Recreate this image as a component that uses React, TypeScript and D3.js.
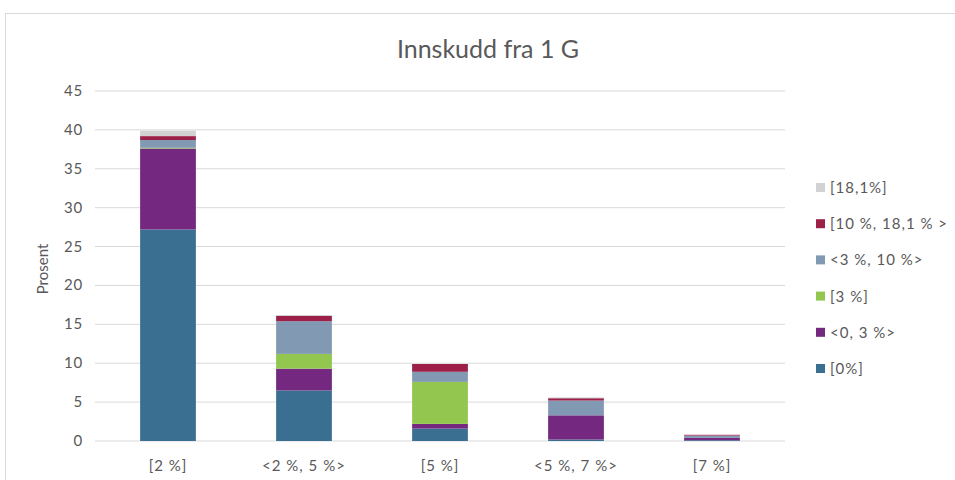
import React from "react";
import * as d3 from "d3";

const categories = ["[2 %]", "<2 %, 5 %>", "[5 %]", "<5 %, 7 %>", "[7 %]"];
const seriesNames = ["[0%]", "<0, 3 %>", "[3 %]", "<3 %, 10 %>", "[10 %, 18,1 % >", "[18,1%]"];
const seriesColors = ["#3a6f92", "#74287f", "#92c64e", "#8199b3", "#9c2048", "#d2d2d2"];

// values per series, in category order
const s0 = [27.2, 6.5, 1.6, 0.2, 0.1];
const s1 = [10.4, 2.8, 0.6, 3.1, 0.3];
const s2 = [0.1, 1.9, 5.4, 0.0, 0.0];
const s3 = [1.0, 4.2, 1.3, 1.9, 0.3];
const s4 = [0.5, 0.7, 1.0, 0.3, 0.1];
const s5 = [0.7, 0.1, 0.0, 0.1, 0.0];
const seriesValues = [s0, s1, s2, s3, s4, s5];

const yTicks = [0, 5, 10, 15, 20, 25, 30, 35, 40, 45];

export default function App() {
  const W = 955;
  const H = 480;
  const plotLeft = 100;
  const plotRight = 780;
  const plotTop = 91;
  const plotBottom = 441;

  const x = d3.scaleBand<string>().domain(categories).range([plotLeft, plotRight]).paddingInner(0.59).paddingOuter(0.295);
  const y = d3.scaleLinear().domain([0, 45]).range([plotBottom, plotTop]);

  const table = categories.map((c, i) => {
    const row: Record<string, number | string> = { cat: c };
    seriesNames.forEach((n, j) => (row[n] = seriesValues[j][i]));
    return row;
  });
  const stacked = d3.stack<Record<string, number | string>>().keys(seriesNames)(table as any);

  const font = "Lato, 'Open Sans', 'Liberation Sans', sans-serif";
  const legendOrder = [...seriesNames].reverse();
  const legendY = d3.scalePoint<string>().domain(legendOrder).range([188, 369]);
  const textColor = "#595959";

  return (
    <svg width={W} height={H} style={{ position: "absolute", left: 0, top: 0, display: "block" }} fontFamily={font}>
      <rect x={0} y={0} width={W} height={H} fill="#ffffff" />
      <rect x={5.5} y={13.5} width={W + 10} height={H} fill="#ffffff" stroke="#d9d9d9" strokeWidth={1} />
      <text x={488} y={58} textAnchor="middle" fontSize={25} fill={textColor}>Innskudd fra 1 G</text>

      {yTicks.map((t) => (
        <g key={t}>
          <line x1={plotLeft - 5} x2={plotRight + 5} y1={y(t)} y2={y(t)} stroke="#d9d9d9" strokeWidth={1} />
          <text x={83} y={y(t) + 5} textAnchor="end" fontSize={15} letterSpacing={0.8} fill={textColor}>{t}</text>
        </g>
      ))}

      <text transform={`translate(48,${(plotTop + plotBottom) / 2 + 3}) rotate(-90)`} textAnchor="middle" fontSize={15} fill={textColor}>Prosent</text>

      {stacked.map((layer, j) => (
        <g key={seriesNames[j]} fill={seriesColors[j]}>
          {layer.map((d, i) => (
            <rect
              key={i}
              x={x(categories[i])!}
              width={x.bandwidth()}
              y={y(d[1])}
              height={Math.max(0, y(d[0]) - y(d[1]))}
            />
          ))}
        </g>
      ))}

      {categories.map((c) => (
        <text key={c} x={x(c)! + x.bandwidth() / 2} y={471} textAnchor="middle" fontSize={15} letterSpacing={1} fill={textColor}>{c}</text>
      ))}

      {legendOrder.map((n) => {
        const j = seriesNames.indexOf(n);
        const ly = legendY(n)!;
        return (
          <g key={n}>
            <rect x={816} y={ly - 5} width={9} height={9} fill={seriesColors[j]} />
            <text x={830} y={ly + 5} fontSize={15} letterSpacing={1} fill={textColor}>{n}</text>
          </g>
        );
      })}
    </svg>
  );
}
